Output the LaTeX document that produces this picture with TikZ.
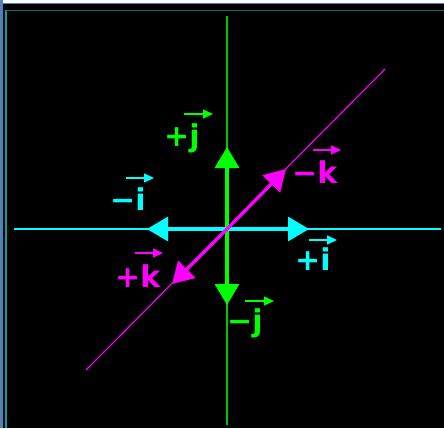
\documentclass[tikz,border=0pt]{standalone}
\usepackage{fontspec}
\setmainfont{DejaVu Sans}
\usetikzlibrary{arrows.meta}
\definecolor{gr}{RGB}{0,255,0}
\definecolor{graxis}{RGB}{0,200,0}
\definecolor{cy}{RGB}{0,255,255}
\definecolor{mg}{RGB}{255,0,255}
\definecolor{frameblue}{RGB}{79,129,189}
\definecolor{tealtop}{RGB}{0,110,110}
\definecolor{tealleft}{RGB}{0,160,160}
\tikzset{
  axisline/.style={line width=1.3pt},
  bigarrow/.style={line width=3.3pt, -{Triangle[length=21pt,width=24pt]}},
  vec/.style={line width=1.6pt, -{Triangle[length=10pt,width=9pt]}},
  lbl/.style={inner sep=0pt, anchor=base west, font=\bfseries\fontsize{30}{30}\selectfont}
}
\begin{document}
\begin{tikzpicture}[x=1pt,y=-1pt]
\useasboundingbox (0,0) rectangle (444,428);
\fill[white] (0,0) rectangle (444,428);
\fill[black] (3.3,4.3) rectangle (444,428);
\fill[frameblue] (0,0) rectangle (3.3,428);
\fill[frameblue] (3.3,3.3) rectangle (444,4.3);
\draw[tealleft, line width=1.2pt] (6,428) -- (6,10.3);
\draw[tealtop, line width=1.2pt] (6,10.3) -- (444,10.3);

\coordinate (O) at (227,229);
\coordinate (N) at (227,16);
\coordinate (S) at (227,425);
\coordinate (W) at (14,229);
\coordinate (E) at (441,229);
\coordinate (SW) at (86,370);
\coordinate (NE) at (385,69);

\coordinate (jp) at (227,147);
\coordinate (jm) at (227,305);
\coordinate (ip) at (309,229);
\coordinate (im) at (147,229);
\coordinate (km) at (286,169);
\coordinate (kp) at (172,284);

\draw[axisline, graxis] (N) -- (S);
\draw[axisline, cy] (W) -- (E);
\draw[line width=1.1pt, mg] (SW) -- (NE);

\draw[bigarrow, gr] (O) -- (jp);
\draw[bigarrow, gr] (O) -- (jm);
\draw[bigarrow, cy] (O) -- (ip);
\draw[bigarrow, cy] (O) -- (im);
\draw[bigarrow, mg] (O) -- (km);
\draw[bigarrow, mg] (O) -- (kp);

\node[lbl, text=gr] (Ljp) at (164,146) {+j};
\node[lbl, text=cy] (Lim) at (110,210) {−i};
\node[lbl, text=mg] (Lkp) at (115,287) {+k};
\node[lbl, text=gr] (Ljm) at (227,331) {−j};
\node[lbl, text=mg] (Lkm) at (292,183) {−k};
\node[lbl, text=cy] (Lip) at (295,270) {+i};

\draw[vec, gr] ([shift={(20,-32)}]Ljp.base west) -- ++(29,0);
\draw[vec, cy] ([shift={(16,-32)}]Lim.base west) -- ++(28,0);
\draw[vec, mg] ([shift={(20,-34)}]Lkp.base west) -- ++(28,0);
\draw[vec, gr] ([shift={(18,-30)}]Ljm.base west) -- ++(29,0);
\draw[vec, mg] ([shift={(21,-33)}]Lkm.base west) -- ++(28,0);
\draw[vec, cy] ([shift={(14,-30)}]Lip.base west) -- ++(28,0);
\end{tikzpicture}
\end{document}
